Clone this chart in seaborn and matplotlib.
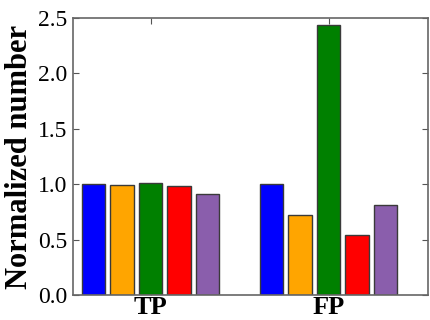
import pandas as pd
import seaborn as sns
from matplotlib import pyplot as plt

groups = ["TP", "FP"]
methods = ["m1", "m2", "m3", "m4", "m5"]
tp_values = [1.00, 0.99, 1.01, 0.98, 0.91]
fp_values = [1.00, 0.72, 2.44, 0.54, 0.815]
colors = ["#0000ff", "#ffa500", "#008000", "#ff0000", "#8a5eac"]

rows = []
for g, vals in zip(groups, [tp_values, fp_values]):
    for m, v in zip(methods, vals):
        rows.append({"group": g, "method": m, "value": v})
df = pd.DataFrame(rows)

sns.set_style("white")
plt.rcParams['font.family'] = ['Liberation Serif', 'DejaVu Serif']
plt.rcParams['text.color'] = 'black'
plt.rcParams['axes.labelcolor'] = 'black'
plt.rcParams['xtick.labelcolor'] = 'black'
plt.rcParams['ytick.labelcolor'] = 'black'

fig = plt.figure(figsize=(4.3, 3.2), dpi=100)
ax = fig.add_axes([0.170, 0.078, 0.826, 0.866])

sns.barplot(data=df, x="group", y="value", hue="method", palette=colors,
            order=groups, hue_order=methods, gap=0.17, width=0.8,
            saturation=1, edgecolor="#3a3a3a", linewidth=1, legend=False, ax=ax)

ax.set_xlim(-0.435, 1.56)
ax.set_ylim(0, 2.5)
ax.set_yticks([0.0, 0.5, 1.0, 1.5, 2.0, 2.5])
ax.set_yticklabels(["0.0", "0.5", "1.0", "1.5", "2.0", "2.5"], fontsize=17)
ax.set_xticks([0, 1])
ax.set_xticklabels(groups, fontsize=19, fontweight="bold")
ax.set_xlabel("")
ax.set_ylabel("Normalized number", fontsize=22, fontweight="bold", labelpad=3)
ax.tick_params(direction="in", length=4, color="#555555", top=True, right=True,
               left=True, bottom=True)
ax.tick_params(axis="y", pad=4)
ax.tick_params(axis="x", pad=1)
for s in ax.spines.values():
    s.set_color("#666666")
    s.set_linewidth(1.2)

plt.savefig("out.png", dpi=100)
